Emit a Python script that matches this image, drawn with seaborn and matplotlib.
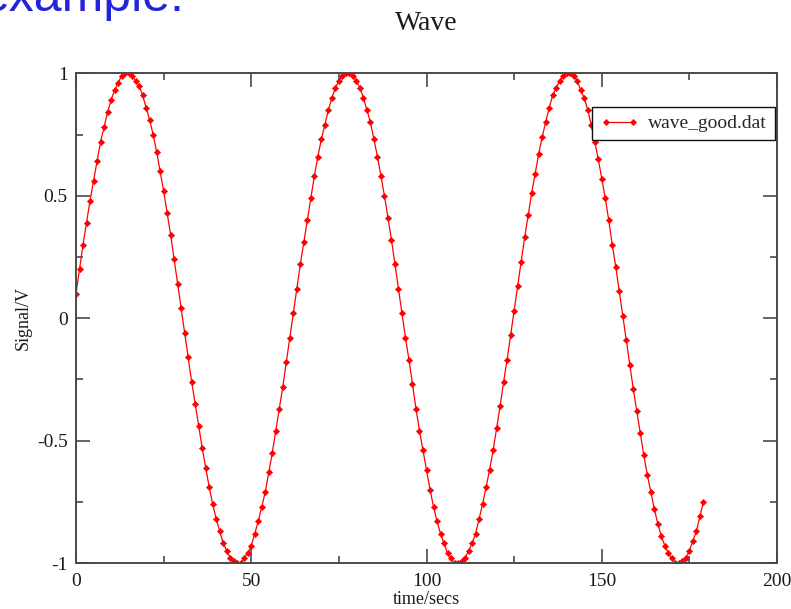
import numpy as np
import pandas as pd
import matplotlib
matplotlib.use("Agg")
import matplotlib.pyplot as plt
import seaborn as sns
from matplotlib.ticker import MultipleLocator

# ---- data ----
time_secs = np.arange(0, 180)  # sample times, 1 s apart
signal_v = [
    0.10, 0.20, 0.30, 0.39, 0.48, 0.56, 0.64, 0.72, 0.78, 0.84,
    0.89, 0.93, 0.96, 0.99, 1.00, 1.00, 0.99, 0.97, 0.95, 0.91,
    0.86, 0.81, 0.75, 0.68, 0.60, 0.52, 0.43, 0.34, 0.24, 0.14,
    0.04, -0.06, -0.16, -0.26, -0.35, -0.44, -0.53, -0.61, -0.69, -0.76,
    -0.82, -0.87, -0.92, -0.95, -0.98, -0.99, -1.00, -1.00, -0.98, -0.96,
    -0.93, -0.88, -0.83, -0.77, -0.71, -0.63, -0.55, -0.46, -0.37, -0.28,
    -0.18, -0.08, 0.02, 0.12, 0.22, 0.31, 0.40, 0.49, 0.58, 0.66,
    0.73, 0.79, 0.85, 0.90, 0.94, 0.97, 0.99, 1.00, 1.00, 0.99,
    0.97, 0.94, 0.90, 0.85, 0.80, 0.73, 0.66, 0.58, 0.50, 0.41,
    0.32, 0.22, 0.12, 0.02, -0.08, -0.17, -0.27, -0.37, -0.46, -0.54,
    -0.62, -0.70, -0.77, -0.83, -0.88, -0.92, -0.96, -0.98, -1.00, -1.00,
    -0.99, -0.98, -0.95, -0.92, -0.88, -0.82, -0.76, -0.69, -0.62, -0.54,
    -0.45, -0.36, -0.26, -0.17, -0.07, 0.03, 0.13, 0.23, 0.33, 0.42,
    0.51, 0.59, 0.67, 0.74, 0.80, 0.86, 0.91, 0.94, 0.97, 0.99,
    1.00, 1.00, 0.99, 0.97, 0.93, 0.90, 0.85, 0.79, 0.72, 0.65,
    0.57, 0.49, 0.40, 0.30, 0.21, 0.11, 0.01, -0.09, -0.19, -0.29,
    -0.38, -0.47, -0.56, -0.64, -0.71, -0.78, -0.84, -0.89, -0.93, -0.96,
    -0.98, -1.00, -1.00, -0.99, -0.98, -0.95, -0.91, -0.87, -0.81, -0.75,
]
series_name = "wave_good.dat"
title_text = "Wave"
x_label = "time/secs"
y_label = "Signal/V"
x_ticks = [0, 50, 100, 150, 200]
y_ticks = [-1, -0.5, 0, 0.5, 1]
y_tick_labels = ["-1", "-0.5", "0", "0.5", "1"]

df = pd.DataFrame({"time": time_secs, "signal": signal_v})

sns.set_theme(style="ticks")
plt.rcParams["font.family"] = ["Liberation Serif", "DejaVu Serif"]

W, H = 791, 609
fig = plt.figure(figsize=(W / 100, H / 100), dpi=100)
L, R, T, B = 76, 777, 73.3, 563
ax = fig.add_axes([L / W, (H - B) / H, (R - L) / W, (B - T) / H])

sns.lineplot(data=df, x="time", y="signal", ax=ax, sort=False, estimator=None,
             color="#ff0000", linewidth=0.9, marker="D", markersize=3.2,
             markeredgewidth=0.4, markeredgecolor="#ff0000", label=series_name)

ax.set_xlim(0, 200)
ax.set_ylim(-1, 1)
ax.set_xticks(x_ticks)
ax.set_xticklabels([str(v) for v in x_ticks])
ax.set_yticks(y_ticks)
ax.set_yticklabels(y_tick_labels)
ax.xaxis.set_minor_locator(MultipleLocator(25))
ax.yaxis.set_minor_locator(MultipleLocator(0.25))

axis_col = "#4a4a4a"
for s in ax.spines.values():
    s.set_visible(True)
    s.set_color(axis_col)
    s.set_linewidth(1.4)
ax.tick_params(which="both", direction="in", top=True, right=True,
               color=axis_col, width=1.2)
ax.tick_params(which="major", length=10, pad=6, labelsize=14, labelcolor="#1a1a1a")
ax.tick_params(axis="x", which="major", pad=7)
ax.tick_params(which="minor", length=5)

ax.set_xlabel(x_label, fontsize=13, color="#1a1a1a", labelpad=1)
ax.set_ylabel(y_label, fontsize=13, color="#1a1a1a", labelpad=4)
ax.set_title(title_text, fontsize=20, color="#1a1a1a", pad=31)
ax.grid(False)

leg = ax.legend(loc="upper right", bbox_to_anchor=((775 - L) / (R - L), (B - 107) / (B - T)),
                borderaxespad=0, frameon=True, fancybox=False, shadow=False,
                fontsize=14, numpoints=2, handlelength=2.0, handletextpad=0.5,
                borderpad=0.4, markerscale=1.0)
leg.get_frame().set_edgecolor("#111111")
leg.get_frame().set_linewidth(1.0)
leg.get_frame().set_facecolor("white")
leg.get_frame().set_alpha(1)

fig.text(-18 / W, 1 - 10.7 / H, "example:", fontsize=36, color="#2323dc",
         family=["Liberation Sans", "DejaVu Sans"], ha="left", va="baseline")

fig.savefig("out.png", dpi=100)
